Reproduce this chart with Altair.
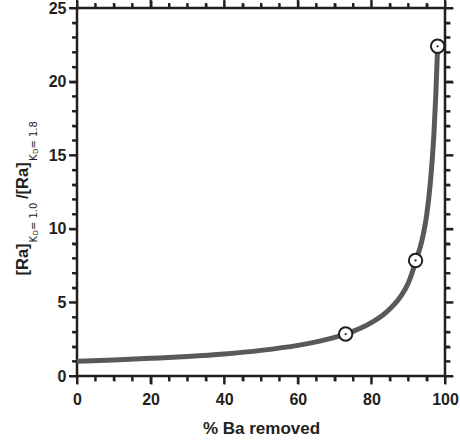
import altair as alt
import pandas as pd

# Curve: % Ba removed vs [Ra]KD=1.0/[Ra]KD=1.8
pct_removed = [0, 10, 20, 30, 40, 50, 60, 65, 70, 75, 80, 84, 88, 90, 92, 94, 95, 96, 96.5, 97, 97.5, 98]
ratio = [1.0, 1.09, 1.2, 1.33, 1.5, 1.74, 2.08, 2.32, 2.62, 3.03, 3.62, 4.32, 5.42, 6.3, 7.75, 9.5, 10.9, 13.1, 14.6, 16.5, 19.1, 22.4]

# Marked points
pt_x = [73, 92, 98]
pt_y = [2.85, 7.85, 22.4]

x_major = [0, 20, 40, 60, 80, 100]
x_minor = [5, 10, 15, 25, 30, 35, 45, 50, 55, 65, 70, 75, 85, 90, 95]
y_major = [0, 5, 10, 15, 20, 25]
y_minor = [1, 2, 3, 4, 6, 7, 8, 9, 11, 12, 13, 14, 16, 17, 18, 19, 21, 22, 23, 24]

curve = pd.DataFrame({"x": pct_removed, "y": ratio})
pts = pd.DataFrame({"x": pt_x, "y": pt_y})

FONT = "Liberation Sans"
SUBFONT = "DejaVu Sans"
INK = "#231f20"
W = 368
H = 368
MAJ = 8
MIN = 5

xs = alt.Scale(domain=[0, 100], nice=False, zero=False)
ys = alt.Scale(domain=[0, 25], nice=False, zero=False)

lab = dict(labelFont=FONT, labelFontSize=16, labelFontWeight="bold", labelColor=INK,
           labelFlush=False, labelOverlap=False)


def ttl(text, tx, ty, size, font=SUBFONT, weight="normal"):
    # one piece of the rotated y title, placed via an axis title
    return dict(title=text, titleX=tx, titleY=ty, titleAngle=270, titleAlign="left",
                titleBaseline="alphabetic", titleFont=font, titleFontSize=size,
                titleFontWeight=weight, titleColor=INK)


def ax(orient, values, size, **kw):
    return alt.Axis(orient=orient, values=values, tickSize=size, tickWidth=2, tickColor=INK,
                    domain=False, grid=False, **kw)


MAIN_X = -50
SUB_X = -41
SUBSUB_X = -40
NB = "\u00a0"

x_bottom = ax("bottom", x_major, MAJ, labelPadding=7, **lab,
              title="% Ba removed", titleFont=FONT, titleFontSize=17, titleFontWeight="bold",
              titleColor=INK, titleY=57, titleBaseline="alphabetic")
y_left = ax("left", y_major, MAJ, labelPadding=3, **lab,
            **ttl("[Ra]", MAIN_X, 267, 16.5, FONT, "bold"))

line = alt.Chart(curve).mark_line(color="#58595b", strokeWidth=5, interpolate="monotone").encode(
    x=alt.X("x:Q", scale=xs, axis=x_bottom),
    y=alt.Y("y:Q", scale=ys, axis=y_left),
)

circles = alt.Chart(pts).mark_point(
    shape="circle", filled=True, fill="white", stroke=INK, strokeWidth=2, size=180, opacity=1
).encode(
    x=alt.X("x:Q", scale=xs, axis=ax("top", x_major, MAJ, labels=False, **ttl("K", SUB_X, 234, 10))),
    y=alt.Y("y:Q", scale=ys, axis=ax("right", y_major, MAJ, labels=False, **ttl("D", SUBSUB_X - W, 227, 7))),
)

dots = alt.Chart(pts).mark_point(shape="circle", filled=True, color=INK, size=5, opacity=1).encode(
    x=alt.X("x:Q", scale=xs, axis=ax("bottom", x_minor, MIN, labels=False,
                                     **ttl(NB + "= 1.0", SUB_X, 221.6 - H, 10))),
    y=alt.Y("y:Q", scale=ys, axis=ax("left", y_minor, MIN, labels=False,
                                     **ttl("/[Ra]", MAIN_X, 190.5, 16.5, FONT, "bold"))),
)

ghost = alt.Chart(pts).mark_point(opacity=0).encode(
    x=alt.X("x:Q", scale=xs, axis=ax("top", x_minor, MIN, labels=False, **ttl("K", SUB_X, 152.5, 10))),
    y=alt.Y("y:Q", scale=ys, axis=ax("right", y_minor, MIN, labels=False, **ttl("D", SUBSUB_X - W, 145.5, 7))),
)

ghost2 = alt.Chart(pts).mark_point(opacity=0).encode(
    x=alt.X("x:Q", scale=xs, axis=alt.Axis(orient="bottom", values=[0], ticks=False, labels=False,
                                           domain=False, grid=False,
                                           **ttl(NB + "= 1.8", SUB_X, 140.1 - H, 10))),
    y=alt.Y("y:Q", scale=ys, axis=None),
)


# Frame tick marks drawn as tick marks positioned through the same scales
def xticks(values, length, side):
    pos = H + length / 2 if side == "bottom" else -length / 2
    return alt.Chart(pd.DataFrame({"v": values})).mark_tick(
        orient="vertical", color=INK, size=length, thickness=2, opacity=1
    ).encode(x=alt.X("v:Q", scale=xs, axis=None), y=alt.value(pos))


def yticks(values, length, side):
    pos = -length / 2 if side == "left" else W + length / 2
    return alt.Chart(pd.DataFrame({"v": values})).mark_tick(
        orient="horizontal", color=INK, size=length, thickness=2, opacity=1
    ).encode(y=alt.Y("v:Q", scale=ys, axis=None), x=alt.value(pos))


tick_layers = [
    xticks(x_major, MAJ, "bottom"), xticks(x_minor, MIN, "bottom"),
    xticks(x_major, MAJ, "top"), xticks(x_minor, MIN, "top"),
    yticks(y_major, MAJ, "left"), yticks(y_minor, MIN, "left"),
    yticks(y_major, MAJ, "right"), yticks(y_minor, MIN, "right"),
]

chart = alt.layer(line, circles, dots, ghost, ghost2, *tick_layers).resolve_axis(
    x="independent", y="independent"
).properties(
    width=W, height=H,
    autosize=alt.AutoSizeParams(type="none"),
    padding={"left": 77, "top": 8, "right": 15, "bottom": 66},
).configure_view(stroke=INK, strokeWidth=2.5)

chart.save("out.html", embed_options={"renderer": "svg", "actions": False})
